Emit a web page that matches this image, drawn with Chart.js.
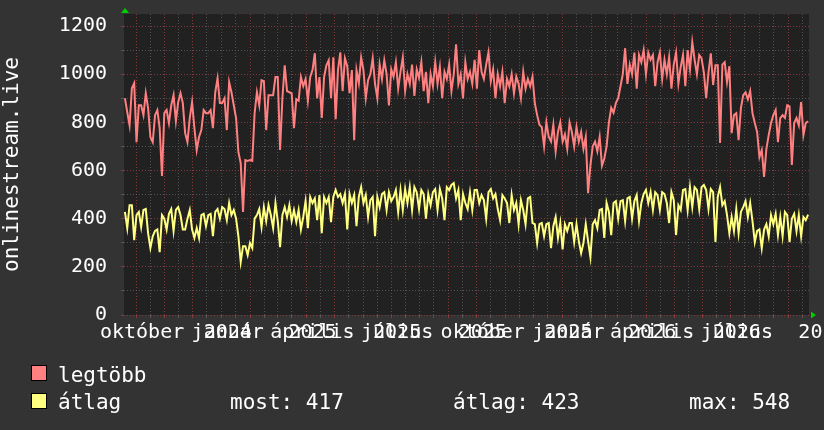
<!DOCTYPE html>
<html>
<head>
<meta charset="utf-8">
<script src="https://cdn.jsdelivr.net/npm/chart.js@4.4.1/dist/chart.umd.min.js"></script>
<style>
  html, body { margin: 0; padding: 0; background: #333333; }
  canvas { display: block; }
</style>
</head>
<body>
<canvas id="chart" width="824" height="430"></canvas>
<script>
// series names as in the legend
const seriesNames = ['legtöbb', 'átlag']

// legtöbb (max), evenly spaced over the time range
const legtobb = [
  900, 842, 788, 942, 963, 718, 871, 871, 830, 921,
  859, 739, 718, 830, 851, 776, 577, 838, 851, 797,
  871, 913, 805, 884, 921, 880, 755, 718, 818, 884,
  776, 685, 739, 768, 851, 838, 838, 851, 776, 925,
  983, 880, 880, 900, 768, 967, 925, 871, 818, 676,
  631, 428, 643, 640, 643, 640, 838, 925, 871, 975,
  971, 768, 913, 913, 913, 988, 988, 685, 900, 1037,
  930, 925, 921, 776, 896, 890, 988, 950, 980, 890,
  988, 1017, 1087, 900, 988, 818, 988, 1037, 1058, 900,
  1070, 813, 1017, 1091, 930, 1066, 1033, 921, 1017, 726,
  1017, 963, 1070, 1017, 900, 975,
  1000, 1066, 960, 900, 1040, 980, 1058, 1000, 870, 1020,
  990, 1050, 940, 1010, 1070, 930, 1000, 960, 1040, 910,
  1020, 985, 1050, 930, 1010, 880, 1000, 950, 1050, 960,
  1030, 900, 1010, 980, 1040, 930, 1000,
  1124,
  960, 1000, 900, 1050, 980, 1010, 960, 1060, 940, 1100,
  1010, 980, 1040, 1091, 970, 1020, 900, 1000, 950, 1010,
  880, 980, 950, 1000, 920, 990, 960, 900, 1010, 940,
  980, 950, 990,
  880, 830, 790,
  780, 700, 800, 740, 720, 790, 680, 760, 800, 720,
  750, 690, 800, 760, 700, 780, 720, 760, 690, 740,
  506, 620, 700,
  720, 680, 740, 620, 650, 700,
  800, 860, 840, 880, 900, 950, 1000,
  1108, 960, 1040, 1000, 1090, 940, 1080, 1050, 1100, 1000,
  1090, 1060, 1080, 950, 1050, 1090, 980, 1060, 1000, 1070,
  940, 1040, 1090, 960, 1030, 1080, 950, 1100, 1020, 1133,
  1060, 1000, 1080,
  1066, 1008, 900, 1008, 1087, 955, 1037, 1037, 714, 1040,
  1050, 967, 1033, 755, 830, 838, 726, 859, 913, 925,
  896, 930, 838, 797, 760, 656, 685, 573, 690, 747,
  797, 830, 851, 718, 818, 830, 818, 871, 866, 623,
  797, 818, 788, 884, 747, 797, 805
]

// átlag (average)
const atlag = [
  428, 361, 456, 456, 311, 415, 428, 365, 436, 440,
  340, 278, 327, 349, 355, 261, 415, 400, 355, 420,
  440, 349, 436, 448, 415, 355, 355, 400, 436, 355,
  320, 361, 320, 415, 420, 369, 415, 420, 327, 428,
  440, 400, 448, 440, 394, 465, 415, 436, 400, 327,
  220, 286, 286, 249, 299, 278, 400, 415, 440, 365,
  448, 390, 456, 415, 361, 465, 390, 282, 415, 448,
  407, 456, 390, 436, 386, 436, 355, 407, 473, 361,
  490, 465, 484, 394, 498, 340, 490, 465, 490, 386,
  490, 519, 490, 502, 465, 502, 355, 502, 465, 498,
  369, 490, 531, 465, 498, 407, 477, 490, 327, 490,
  448, 502, 510, 436, 510, 473, 490, 519, 428, 519,
  436, 523, 465, 531, 436, 531, 510, 440, 519, 502,
  400, 502, 456, 510, 523, 436, 523, 484, 394, 531,
  519, 540, 548, 484,
  519, 394, 502, 465, 440, 510, 436, 519, 519, 465,
  498, 477, 400, 510, 523, 484, 502, 440, 394, 498,
  484, 465, 382, 498, 436, 465, 377, 477, 436, 377,
  484, 490, 382, 377, 299, 377, 382, 327, 377, 382,
  278, 369, 407, 320, 382, 272, 377, 349, 382, 382,
  303, 377, 307, 257, 299, 377, 307, 241, 377, 394,
  361, 436, 440, 320, 465, 428, 332, 465, 473, 400,
  473, 477, 390, 484, 490, 400, 473, 498, 390, 465,
  502, 519, 465, 510, 436, 510, 498, 436, 510, 502,
  465, 382, 510, 477, 332, 456, 436, 519, 523, 436,
  531, 448, 531, 519, 440, 531, 540, 519, 440, 523,
  510, 303, 490, 531, 456, 473, 415, 340, 407, 349,
  440, 340, 428, 448, 473, 407, 465, 390, 303, 349,
  355, 278, 355, 377, 327, 415, 377, 420, 332, 407,
  327, 428, 415, 303, 400, 420, 349, 415, 327, 407,
  394, 417
]

// legend figures for átlag
const statLabels = ['most: 417', 'átlag: 423', 'max: 548']

// y axis
const yTickLabels = [0, 200, 400, 600, 800, 1000, 1200]
const yMax = 1250

// x axis: quarter labels (month name with year drawn over it, as in the picture)
const quarterStarts = [[2023, 9], [2024, 0], [2024, 3], [2024, 6], [2024, 9], [2025, 0], [2025, 3], [2025, 6], [2025, 9]]
const quarterMonths = ['október', 'január', 'április', 'július', 'október', 'január', 'április', 'július', '']
const quarterYears = ['', '2024', '2025', '2025', '2025', '2025', '2026', '2026', '2026']

const startDate = new Date(2023, 8, 18)
const spanDays = 736
const firstDay = 1, lastDay = 735

const colors = {
  page: '#333333',
  plot: '#212121',
  text: '#ffffff',
  red: '#ff8080',
  yellow: '#ffff80',
  gridMinor: 'rgba(100,100,100,0.75)',
  gridMajor: 'rgba(150,60,60,0.85)',
  arrow: '#00d000'
}
const FONT = '"DejaVu Sans Mono", monospace'

function dayOf(y, m, d) {
  return Math.round((new Date(y, m, d) - startDate) / 86400000)
}

function spread(values) {
  const step = (lastDay - firstDay) / (values.length - 1)
  return values.map((v, i) => ({x: firstDay + i * step, y: v}))
}

// monthly grid (major on the 1st, minor on the 16th)
const xGridTicks = []
for (let y = 2023, m = 8; y < 2025 || (y === 2025 && m <= 9); m++) {
  if (m > 11) { m = 0; y++ }
  const d1 = dayOf(y, m, 1), d16 = dayOf(y, m, 16)
  if (d1 >= 0 && d1 <= spanDays) xGridTicks.push({value: d1, major: true})
  if (d16 >= 0 && d16 <= spanDays) xGridTicks.push({value: d16, major: false})
}

const yGridTicks = []
for (let v = 0; v <= 1200; v += 100) yGridTicks.push({value: v})

const backdrop = {
  id: 'backdrop',
  beforeDraw(chart) {
    const {ctx, chartArea: a} = chart
    ctx.save()
    ctx.fillStyle = colors.page
    ctx.fillRect(0, 0, chart.width, chart.height)
    ctx.fillStyle = colors.plot
    ctx.fillRect(a.left, a.top, a.right - a.left, a.bottom - a.top)
    ctx.restore()
  }
}

const decorations = {
  id: 'decorations',
  afterDraw(chart) {
    const {ctx, chartArea: a, scales: {x}} = chart
    ctx.save()
    // x labels
    ctx.font = '20px ' + FONT
    ctx.fillStyle = colors.text
    ctx.textAlign = 'center'
    ctx.textBaseline = 'alphabetic'
    quarterStarts.forEach((q, i) => {
      const px = x.getPixelForValue(dayOf(q[0], q[1], 1)) + 6
      if (quarterMonths[i]) ctx.fillText(quarterMonths[i], px, 338)
      if (quarterYears[i]) ctx.fillText(quarterYears[i], px, 338)
    })

    // arrows
    ctx.fillStyle = colors.arrow
    ctx.beginPath()
    ctx.moveTo(a.left - 3, 13); ctx.lineTo(a.left + 5, 13); ctx.lineTo(a.left + 1, 8)
    ctx.closePath(); ctx.fill()
    ctx.beginPath()
    ctx.moveTo(a.right + 2, a.bottom - 3.5); ctx.lineTo(a.right + 2, a.bottom + 3.5); ctx.lineTo(a.right + 7, a.bottom)
    ctx.closePath(); ctx.fill()

    // legend
    ctx.textAlign = 'left'
    ctx.font = '21px ' + FONT
    const rows = [[colors.red, seriesNames[0], 365, 382], [colors.yellow, seriesNames[1], 393, 409]]
    rows.forEach(([c, name, top, base]) => {
      ctx.fillStyle = c
      ctx.fillRect(31, top, 16, 16)
      ctx.strokeStyle = '#000000'
      ctx.lineWidth = 1
      ctx.strokeRect(31.5, top + 0.5, 15, 15)
      ctx.fillStyle = colors.text
      ctx.fillText(name, 58, base)
    })
    ctx.fillText(statLabels[0], 230, 409)
    ctx.fillText(statLabels[1], 453, 409)
    ctx.fillText(statLabels[2], 689, 409)
    ctx.restore()
  }
}

new Chart(document.getElementById('chart'), {
  type: 'line',
  data: {
    datasets: [
      {label: seriesNames[0], data: spread(legtobb), borderColor: colors.red, borderWidth: 2, pointRadius: 0, tension: 0},
      {label: seriesNames[1], data: spread(atlag), borderColor: colors.yellow, borderWidth: 2, pointRadius: 0, tension: 0}
    ]
  },
  options: {
    responsive: false,
    animation: false,
    devicePixelRatio: 1,
    layout: {padding: {left: 0, top: 14, right: 15, bottom: 0}},
    plugins: {legend: {display: false}, tooltip: {enabled: false}},
    scales: {
      x: {
        type: 'linear',
        min: 0,
        max: spanDays,
        afterBuildTicks: s => { s.ticks = xGridTicks.map(t => ({...t})) },
        afterFit: s => { s.height = 115; s.paddingLeft = 0; s.paddingRight = 0 },
        ticks: {display: false},
        grid: {
          color: c => c.tick && c.tick.major ? colors.gridMajor : colors.gridMinor,
          tickColor: c => c.tick && c.tick.major ? colors.gridMajor : colors.gridMinor,
          drawTicks: true,
          tickLength: 3
        },
        border: {display: false, dash: [1, 2]}
      },
      y: {
        min: 0,
        max: yMax,
        afterBuildTicks: s => { s.ticks = yGridTicks.map(t => ({...t})) },
        afterFit: s => { s.width = 124; s.paddingTop = 0; s.paddingBottom = 0 },
        ticks: {
          color: colors.text,
          font: {family: 'DejaVu Sans Mono', size: 20},
          padding: 14,
          autoSkip: false,
          callback: v => yTickLabels.includes(v) ? String(v) : ''
        },
        grid: {
          color: c => c.tick && c.tick.value % 200 === 0 ? colors.gridMajor : colors.gridMinor,
          tickColor: c => c.tick && c.tick.value % 200 === 0 ? colors.gridMajor : colors.gridMinor,
          drawTicks: true,
          tickLength: 3
        },
        border: {display: false, dash: [1, 2]},
        title: {
          display: true,
          text: 'onlinestream.live',
          color: colors.text,
          font: {family: 'DejaVu Sans Mono', size: 21},
          padding: 0
        }
      }
    }
  },
  plugins: [backdrop, decorations]
})
</script>
</body>
</html>
